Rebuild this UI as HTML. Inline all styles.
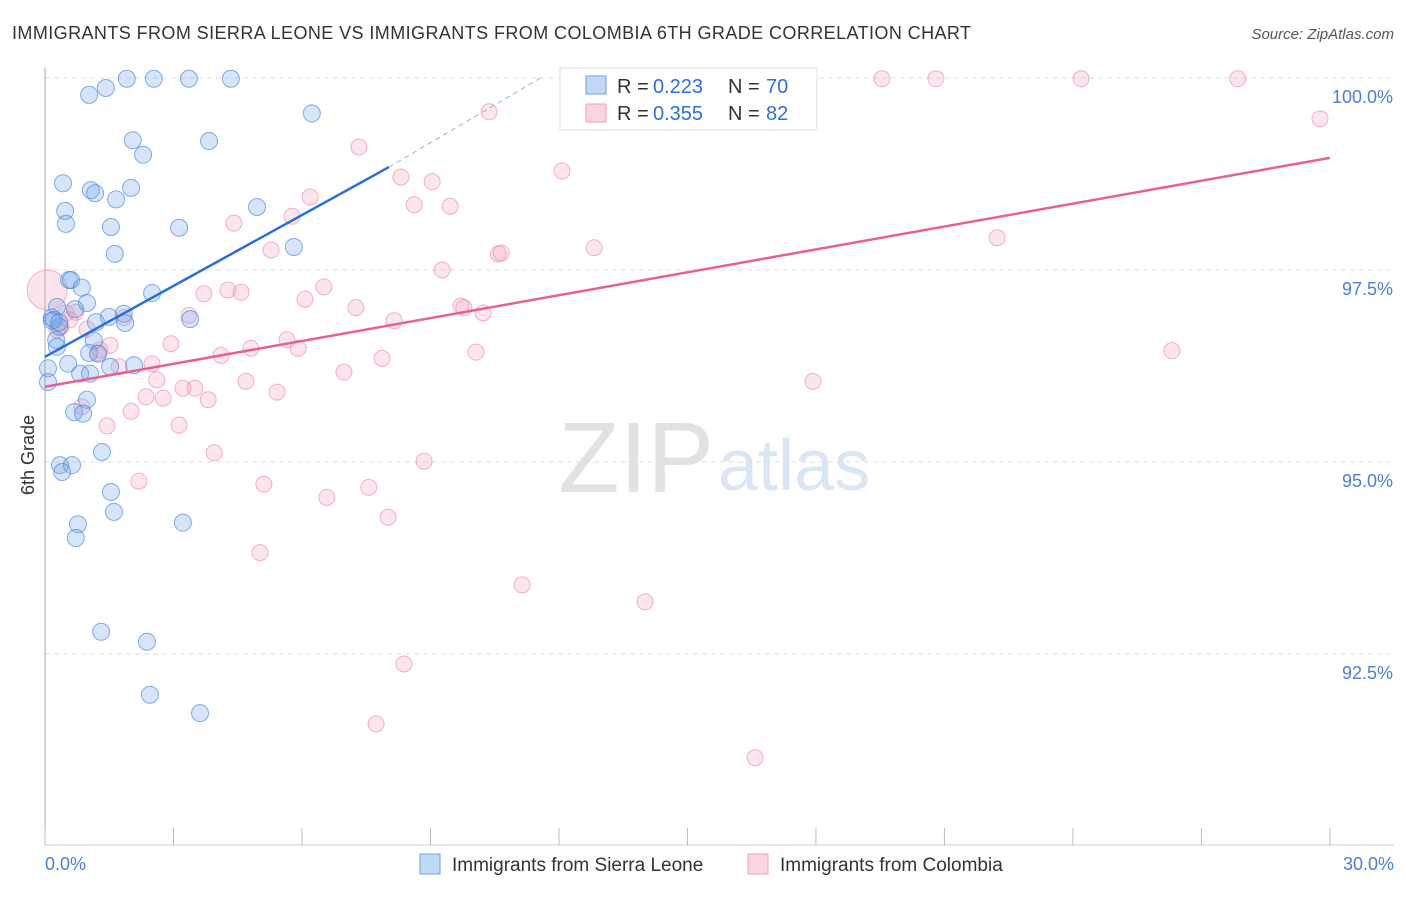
<!DOCTYPE html>
<html><head><meta charset="utf-8"><style>
body{margin:0;background:#fff;font-family:"Liberation Sans",sans-serif}
svg text{font-family:"Liberation Sans",sans-serif}
</style></head><body>
<svg id="chart" width="1406" height="892">
<text x="12" y="39" font-size="18" fill="#333" textLength="959" lengthAdjust="spacing">IMMIGRANTS FROM SIERRA LEONE VS IMMIGRANTS FROM COLOMBIA 6TH GRADE CORRELATION CHART</text>
<text x="1394" y="39" font-size="15" fill="#555" text-anchor="end" font-style="italic">Source: ZipAtlas.com</text>
<text x="714" y="492" font-size="100" fill="#e2e2e2" text-anchor="end" font-family="Liberation Serif">ZIP</text>
<text x="718" y="490" font-size="72" fill="#dae6f6">atlas</text>
<g id="grid"></g><g id="axes"></g><g id="pts"></g><g id="lines"></g>
<text transform="translate(34,455) rotate(-90)" font-size="18" fill="#333" text-anchor="middle">6th Grade</text>
<g>
<rect x="560" y="68" width="257" height="62" fill="#fff" stroke="#ddd"/>
<rect x="586" y="76" width="20" height="18" fill="rgba(120,170,235,0.45)" stroke="#6f9fe0"/>
<text y="93" font-size="20" fill="#333"><tspan x="617">R =</tspan><tspan x="653" fill="#2f6fd8">0.223</tspan><tspan x="728">N =</tspan><tspan x="766" fill="#2f6fd8">70</tspan></text>
<rect x="586" y="104" width="20" height="18" fill="rgba(245,160,190,0.45)" stroke="#f0a0bc"/>
<text y="120" font-size="20" fill="#333"><tspan x="617">R =</tspan><tspan x="653" fill="#2f6fd8">0.355</tspan><tspan x="728">N =</tspan><tspan x="766" fill="#2f6fd8">82</tspan></text>
</g>
<g>
<rect x="420" y="854" width="20" height="20" fill="rgba(120,170,235,0.45)" stroke="#6f9fe0"/>
<text x="452" y="871" font-size="19" fill="#333">Immigrants from Sierra Leone</text>
<rect x="748" y="854" width="20" height="20" fill="rgba(245,160,190,0.45)" stroke="#f0a0bc"/>
<text x="780" y="871" font-size="19" fill="#333">Immigrants from Colombia</text>
</g>
</svg>
<script>
const blueX=[1.91,2.54,3.36,4.34,1.42,1.03,6.23,2.05,3.83,2.29,0.42,1.07,2.01,1.17,1.66,4.95,0.47,0.49,1.54,3.13,5.81,1.63,0.56,0.61,0.86,2.50,0.28,0.98,0.70,0.16,0.21,1.84,1.49,3.39,1.19,1.87,0.33,0.26,1.14,0.28,1.03,1.24,0.07,0.54,0.82,1.52,2.08,1.05,0.07,0.98,0.68,0.89,1.33,0.35,0.63,0.40,1.54,1.61,0.77,3.22,0.72,1.31,2.38,2.45,3.62,0.16,0.33];
const blueY=[99.99,99.99,99.99,99.99,99.87,99.78,99.54,99.19,99.18,99.00,98.63,98.54,98.57,98.50,98.42,98.32,98.27,98.10,98.06,98.05,97.80,97.71,97.37,97.37,97.27,97.20,97.02,97.07,96.99,96.88,96.85,96.93,96.89,96.86,96.82,96.81,96.76,96.59,96.58,96.50,96.42,96.41,96.22,96.28,96.15,96.24,96.26,96.15,96.04,95.81,95.65,95.63,95.13,94.96,94.96,94.87,94.61,94.35,94.19,94.21,94.01,92.79,92.66,91.97,91.73,96.84,96.82];
const pinkX=[19.54,20.80,24.19,27.85,10.37,29.77,7.33,12.07,8.31,9.04,6.19,8.62,9.46,5.77,4.41,22.23,12.82,10.58,10.65,5.28,9.27,6.51,4.27,4.58,3.71,6.07,9.71,9.78,7.26,10.23,3.36,8.15,0.49,0.72,0.58,0.37,0.98,1.84,5.65,2.94,5.91,4.81,1.52,26.31,1.24,10.06,4.11,7.87,2.50,1.73,6.98,2.61,4.69,17.93,3.22,3.50,5.42,2.36,2.76,3.81,2.01,0.86,3.13,1.45,3.95,8.85,2.19,5.11,7.56,6.58,8.01,5.02,11.14,14.01,8.38,7.73,16.58,0.05,0.28,1.28];
const pinkY=[99.99,99.99,99.99,99.99,99.56,99.47,99.10,98.79,98.71,98.65,98.45,98.35,98.33,98.20,98.11,97.92,97.79,97.71,97.72,97.76,97.50,97.28,97.24,97.21,97.19,97.12,97.03,97.01,97.01,96.94,96.91,96.84,96.94,96.95,96.85,96.76,96.73,96.88,96.59,96.54,96.48,96.48,96.52,96.45,96.42,96.43,96.39,96.35,96.28,96.24,96.17,96.07,96.05,96.05,95.96,95.96,95.91,95.85,95.83,95.81,95.66,95.72,95.48,95.47,95.12,95.01,94.75,94.71,94.67,94.54,94.28,93.82,93.40,93.18,92.37,91.59,91.15,97.24,96.72,96.46];
const pinkR=new Array(pinkX.length).fill(8);pinkR[77]=20;
const blueTrend=[96.37,98.84,100.0]; const blueTrendX=[0,8.03,11.57];
const pinkTrend=[95.98,98.96]; const pinkTrendX=[0,30];
const yTicks=[100,97.5,95,92.5]; const yTickLabels=["100.0%","97.5%","95.0%","92.5%"];
const xTicks=[0,3,6,9,12,15,18,21,24,27,30];
const NS='http://www.w3.org/2000/svg';
const X=v=>45+v*42.83, Y=v=>78+(100-v)*76.8;
function mk(t,a,p){const e=document.createElementNS(NS,t);for(const k in a)e.setAttribute(k,a[k]);document.getElementById(p).appendChild(e);return e;}
yTicks.forEach((t,i)=>{
 const g=mk('line',{x1:45,x2:1394,y1:Y(t),y2:Y(t),stroke:'#ddd','stroke-dasharray':'5,4'},'grid');
 
 
 const l=mk('text',{x:1393,y:Y(t)+25,'font-size':18,fill:'#4a7fd6','text-anchor':'end'},'axes');l.textContent=yTickLabels[i];
 
 
});
const ax=mk('line',{x1:45,x2:45,y1:68,y2:845,stroke:'#aaa'},'axes');


const bx=mk('line',{x1:45,x2:1394,y1:845,y2:845,stroke:'#ccc'},'axes');


xTicks.forEach(t=>{const k=mk('line',{x1:X(t),x2:X(t),y1:828,y2:845,stroke:'#bbb'},'axes');
 
 });
[[0,'0.0%','start',45],[30,'30.0%','end',1394]].forEach(a=>{const l=mk('text',{x:a[3],y:870,'font-size':18,fill:'#4a7fd6','text-anchor':a[2]},'axes');l.textContent=a[1];
 
 });
pinkX.forEach((v,i)=>{const c=mk('circle',{cx:X(v),cy:Y(pinkY[i]),r:pinkR[i],fill:'rgba(245,160,190,0.28)',stroke:'rgba(235,130,165,0.6)'},'pts');
 
 });
blueX.forEach((v,i)=>{const c=mk('circle',{cx:X(v),cy:Y(blueY[i]),r:8.5,fill:'rgba(120,170,235,0.3)',stroke:'rgba(70,130,220,0.65)'},'pts');
 
 });
const b1=mk('line',{x1:X(blueTrendX[0]),y1:Y(blueTrend[0]),x2:X(blueTrendX[1]),y2:Y(blueTrend[1]),stroke:'#2a6fd6','stroke-width':2.5},'lines');


const b2=mk('line',{x1:X(blueTrendX[1]),y1:Y(blueTrend[1]),x2:X(blueTrendX[2]),y2:Y(blueTrend[2]),stroke:'#8fb4e8','stroke-width':1,'stroke-dasharray':'5,4'},'lines');


const p1=mk('line',{x1:X(pinkTrendX[0]),y1:Y(pinkTrend[0]),x2:X(pinkTrendX[1]),y2:Y(pinkTrend[1]),stroke:'#e8608e','stroke-width':2.5},'lines');


</script>
</body></html>
